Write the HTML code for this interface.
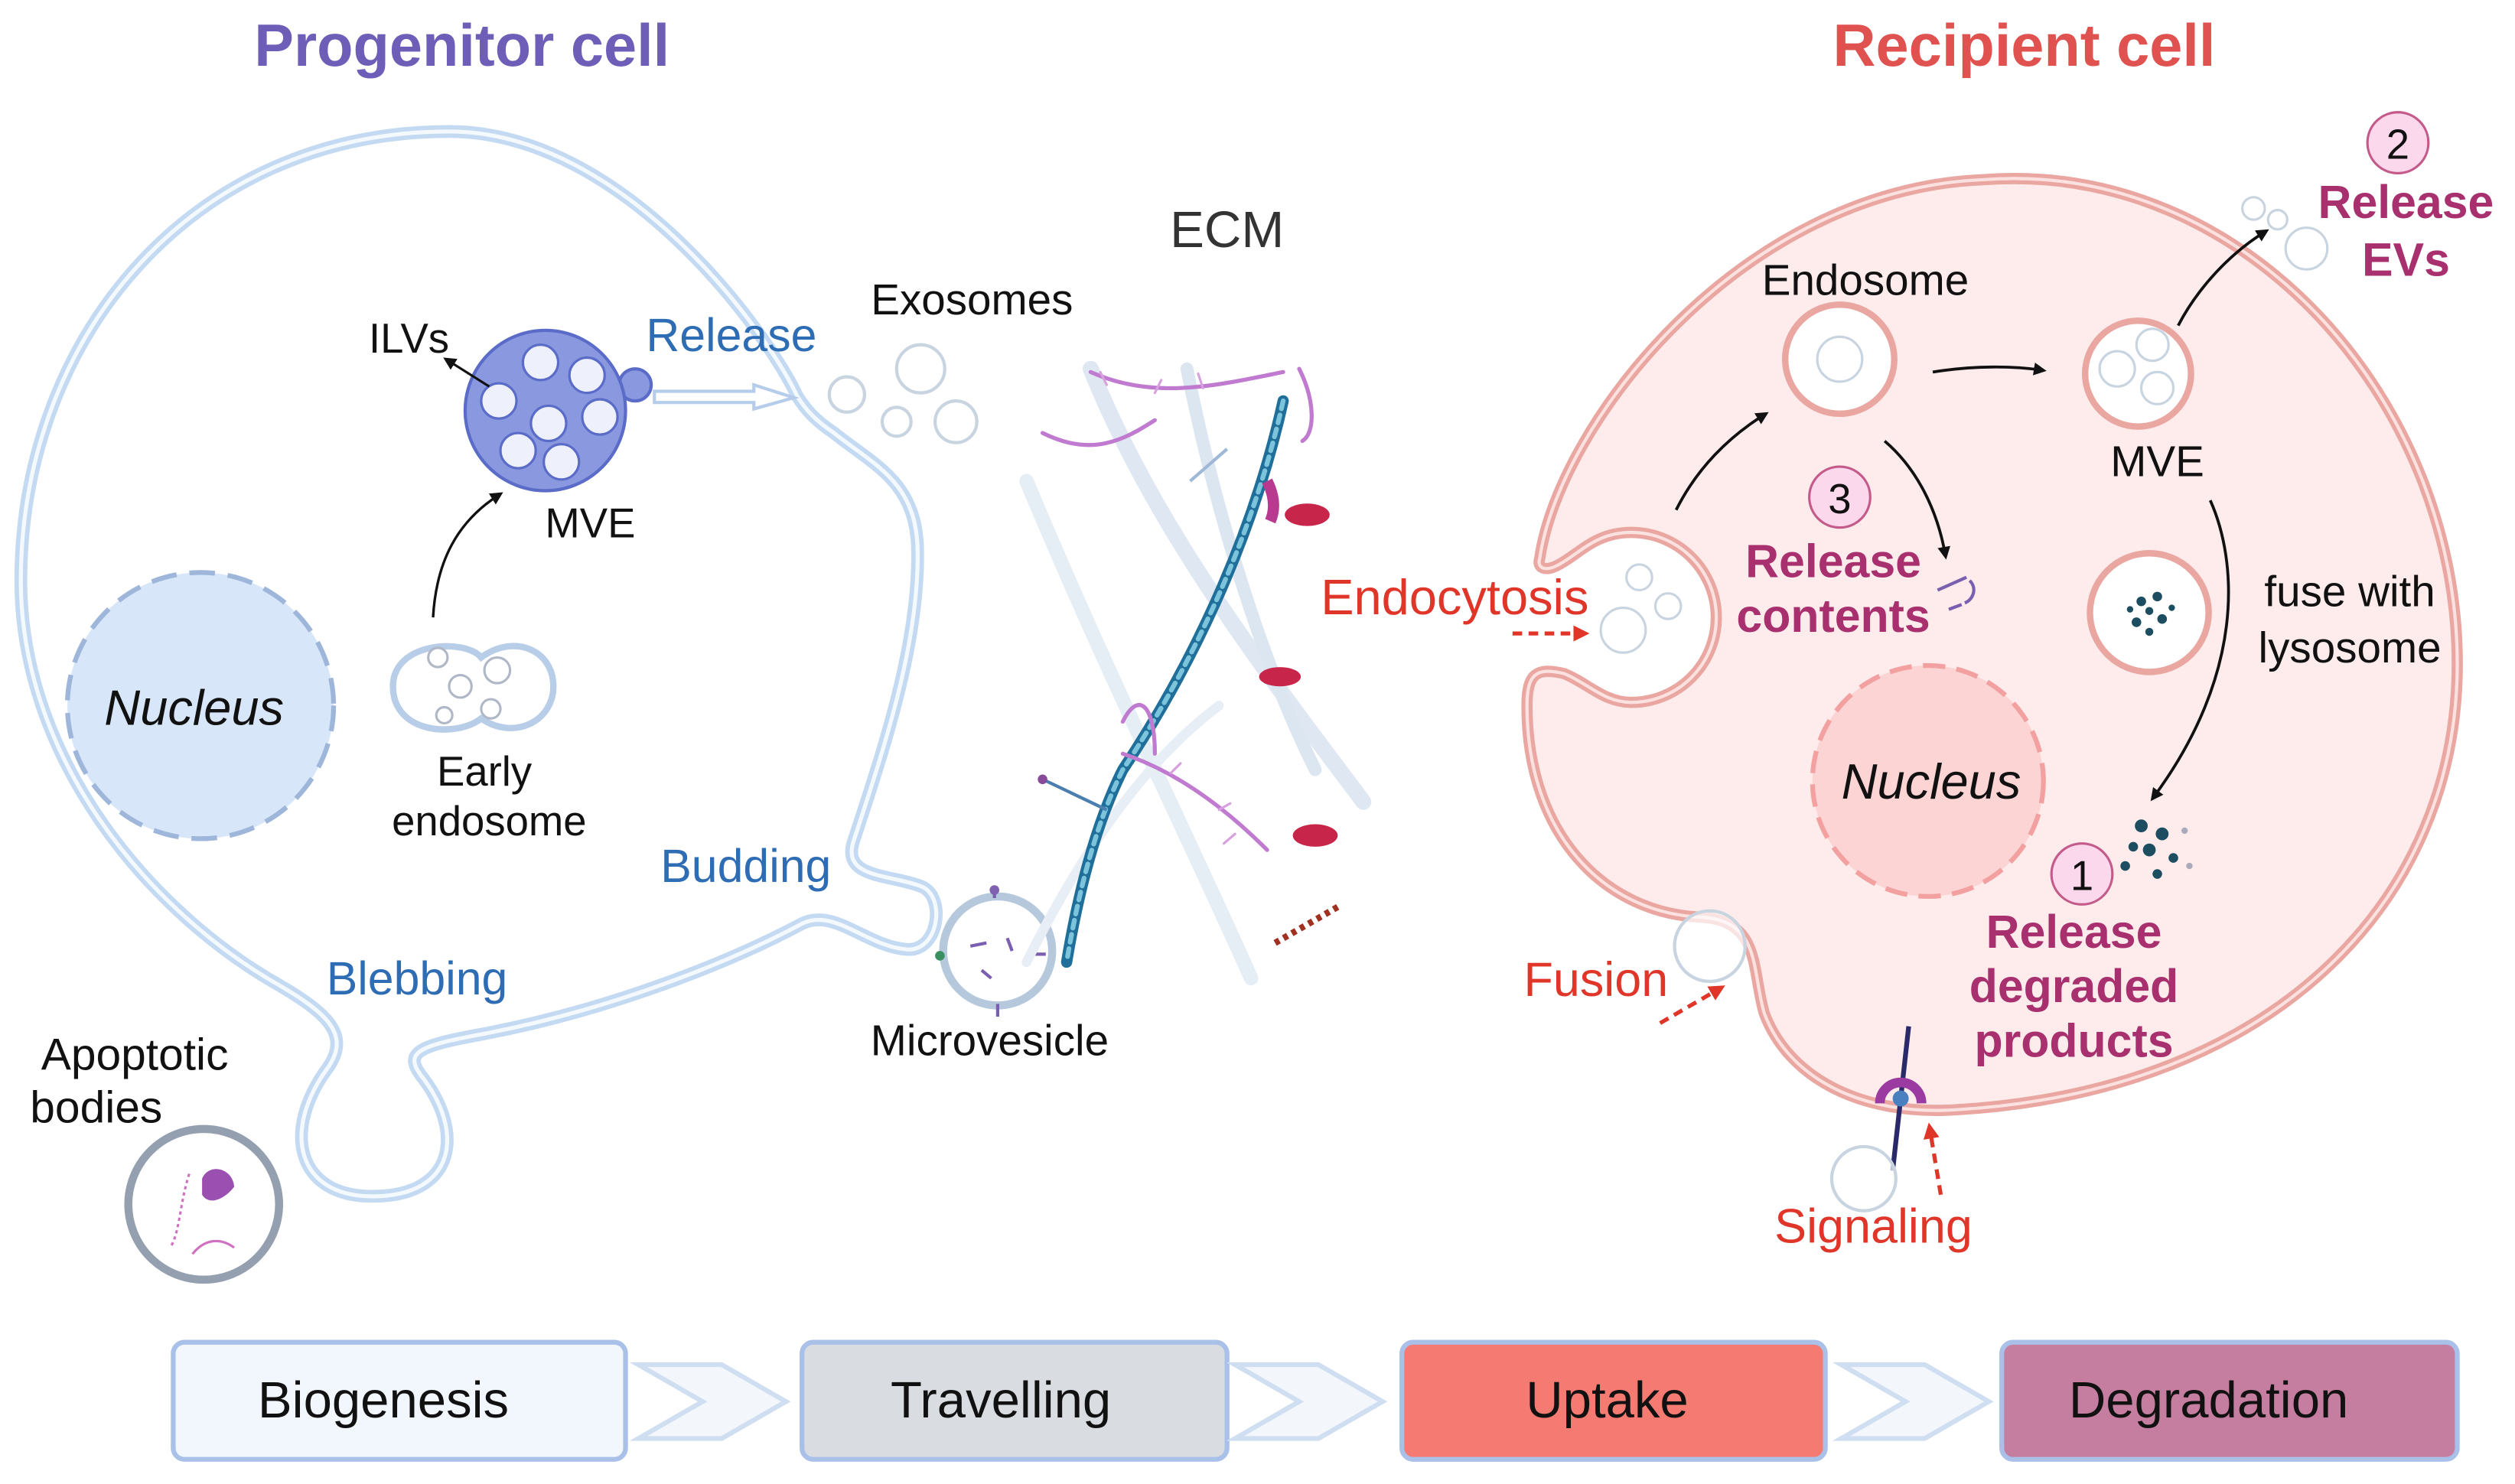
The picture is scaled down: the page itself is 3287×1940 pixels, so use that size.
<!DOCTYPE html>
<html><head><meta charset="utf-8"><style>
html,body{margin:0;padding:0;background:#fff;}
svg{display:block;}
text{font-family:"Liberation Sans",sans-serif;}
</style></head><body>
<svg width="3287" height="1940" viewBox="0 0 1568 925.4" preserveAspectRatio="none" xmlns="http://www.w3.org/2000/svg">
<defs>
<marker id="ah" markerWidth="8" markerHeight="8" refX="6" refY="4" orient="auto" markerUnits="userSpaceOnUse"><path d="M0,0 L8,4 L0,8 Z" fill="#111"/></marker>
<marker id="rh" markerWidth="10" markerHeight="10" refX="7" refY="5" orient="auto" markerUnits="userSpaceOnUse"><path d="M0,0 L10,5 L0,10 Z" fill="#e0362a"/></marker>
</defs>
<rect width="1568" height="925.4" fill="#fff"/>

<text x="288" y="41" font-size="37" fill="#6e5eb8" text-anchor="middle" font-weight="600">Progenitor cell</text>
<text x="1262" y="41" font-size="37" fill="#e0524f" text-anchor="middle" font-weight="600">Recipient cell</text>

<path d="M497,247 C480,210 390,82 280,82 C120,82 14,210 13,360 C12,470 90,565 170,612 C205,632 218,645 205,665 C175,705 185,746 232,746 C285,746 290,705 262,670 C252,656 262,652 300,645 C380,630 455,600 500,576 C520,566 540,590 565,592 C585,594 590,560 575,553 C555,545 525,548 532,525 C550,470 574,400 572,340 C570,300 545,290 520,270 C508,262 502,255 497,247 Z" fill="#fff" stroke="#c3daf2" stroke-width="8"/>
<path d="M497,247 C480,210 390,82 280,82 C120,82 14,210 13,360 C12,470 90,565 170,612 C205,632 218,645 205,665 C175,705 185,746 232,746 C285,746 290,705 262,670 C252,656 262,652 300,645 C380,630 455,600 500,576 C520,566 540,590 565,592 C585,594 590,560 575,553 C555,545 525,548 532,525 C550,470 574,400 572,340 C570,300 545,290 520,270 C508,262 502,255 497,247 Z" fill="none" stroke="#f4f9fe" stroke-width="2.5"/>

<circle cx="125" cy="440" r="83" fill="#d7e6f8" stroke="#9db6d9" stroke-width="3" stroke-dasharray="16,8"/>
<text x="121" y="452" font-size="31" font-style="italic" text-anchor="middle" fill="#111">Nucleus</text>

<circle cx="396" cy="240" r="10" fill="#8a98e0" stroke="#5a6cc8" stroke-width="2"/>
<circle cx="340" cy="256" r="50" fill="#8a98e0" stroke="#5a6cc8" stroke-width="2"/>
<g fill="#eef0fc" stroke="#5a6cc8" stroke-width="1.5">
<circle cx="337" cy="226" r="11"/><circle cx="366" cy="234" r="11"/><circle cx="311" cy="250" r="11"/>
<circle cx="342" cy="264" r="11"/><circle cx="374" cy="260" r="11"/><circle cx="323" cy="281" r="11"/><circle cx="350" cy="288" r="11"/>
</g>
<line x1="305" y1="241" x2="278" y2="224" stroke="#111" stroke-width="1.5" marker-end="url(#ah)"/>
<text x="255" y="220" font-size="26" text-anchor="middle" fill="#111">ILVs</text>
<text x="368" y="335" font-size="26" text-anchor="middle" fill="#111">MVE</text>
<text x="456" y="219" font-size="29" text-anchor="middle" fill="#2e6db4">Release</text>
<path d="M408,244 L470,244 L470,240 L495,248 L470,255 L470,251 L408,251 Z" fill="#fff" stroke="#b5cdea" stroke-width="2"/>

<path d="M245,428 C245,400 290,398 300,410 C320,395 345,405 345,428 C345,450 320,462 300,448 C285,460 245,458 245,428 Z" fill="#fff" stroke="#b8cde8" stroke-width="4"/>
<g fill="#fff" stroke="#b0b8c8" stroke-width="1.5"><circle cx="273" cy="410" r="6"/><circle cx="287" cy="428" r="7"/><circle cx="310" cy="418" r="8"/><circle cx="306" cy="442" r="6"/><circle cx="277" cy="446" r="5"/></g>
<path d="M270,385 C272,350 285,325 312,308" fill="none" stroke="#111" stroke-width="1.6" marker-end="url(#ah)"/>
<text x="302" y="490" font-size="26" text-anchor="middle" fill="#111">Early</text>
<text x="305" y="521" font-size="26" text-anchor="middle" fill="#111">endosome</text>

<text x="465" y="550" font-size="29" text-anchor="middle" fill="#2e6db4">Budding</text>
<text x="260" y="620" font-size="29" text-anchor="middle" fill="#2e6db4">Blebbing</text>
<text x="84" y="667" font-size="28" text-anchor="middle" fill="#111">Apoptotic</text>
<text x="60" y="700" font-size="28" text-anchor="middle" fill="#111">bodies</text>
<circle cx="127" cy="751" r="47" fill="#fff" stroke="#94a0b0" stroke-width="5"/>
<path d="M126,735 C130,725 145,728 146,740 C140,748 130,752 126,745 Z" fill="#9b4fb0"/>
<path d="M118,732 C112,750 112,770 106,778" fill="none" stroke="#d070c0" stroke-width="1.5" stroke-dasharray="2,2"/>
<path d="M120,782 C128,772 138,772 146,778" fill="none" stroke="#d070c0" stroke-width="1.5"/>

<circle cx="622" cy="593" r="34" fill="#fff" stroke="#b5c8dc" stroke-width="5"/>
<path d="M605,590 l10,-2 M628,585 l3,8 M612,605 l6,5 M640,595 l12,0 M620,560 l0,-6 M622,626 l0,8" stroke="#7a5fb0" stroke-width="2"/>
<circle cx="620" cy="555" r="3" fill="#8060b0"/><circle cx="586" cy="596" r="3" fill="#3a9060"/>
<text x="617" y="658" font-size="27" text-anchor="middle" fill="#111">Microvesicle</text>

<text x="606" y="196" font-size="27" text-anchor="middle" fill="#111">Exosomes</text>
<g fill="#fff" stroke="#c8d4e0" stroke-width="2"><circle cx="528" cy="246" r="11"/><circle cx="574" cy="230" r="15"/><circle cx="559" cy="263" r="9"/><circle cx="596" cy="263" r="13"/></g>

<text x="765" y="154" font-size="32" text-anchor="middle" fill="#333">ECM</text>
<g fill="none" stroke-linecap="round">
<path d="M680,230 C720,330 790,420 850,500" stroke="#dfe8f2" stroke-width="10"/>
<path d="M640,300 C690,420 740,520 780,610" stroke="#e5edf5" stroke-width="9"/>
<path d="M740,230 C760,330 790,420 820,480" stroke="#dce6f0" stroke-width="8"/>
<path d="M640,600 C680,520 720,470 760,440" stroke="#e8eef5" stroke-width="6"/>
<path d="M800,250 C780,340 740,420 700,480 C680,520 670,570 665,600" stroke="#1f6f9a" stroke-width="7"/>
<path d="M800,250 C780,340 740,420 700,480 C680,520 670,570 665,600" stroke="#7cc4dc" stroke-width="3" stroke-dasharray="5,4"/>
<path d="M680,232 C720,250 760,240 800,232 M650,270 C680,285 700,275 720,262 M700,470 C730,480 760,500 790,530 M700,450 C710,430 720,440 720,470 M810,230 C820,250 820,270 812,275" stroke="#c07ad0" stroke-width="2.5"/>
<path d="M690,240 l-4,-8 M720,245 l4,-8 M750,242 l-3,-9 M730,482 l6,-6 M760,505 l7,-4 M770,520 l-7,6" stroke="#d9a0e0" stroke-width="1.5"/>
</g>
<ellipse cx="815" cy="321" rx="14" ry="7" fill="#c8254a"/>
<path d="M790,300 C795,310 795,318 792,325" stroke="#b83a90" stroke-width="7" fill="none"/>
<ellipse cx="798" cy="422" rx="13" ry="6" fill="#c8254a"/>
<ellipse cx="820" cy="521" rx="14" ry="7" fill="#c8254a"/>
<path d="M795,588 L835,565" stroke="#a03020" stroke-width="4" stroke-dasharray="3,3"/>
<path d="M648,485 L690,505" stroke="#4a7fb0" stroke-width="2"/><circle cx="650" cy="486" r="3" fill="#8a4a9a"/>
<path d="M742,300 L765,280" stroke="#a0b8d8" stroke-width="2"/>

<path d="M960,348 C972,265 1085,118 1237,112 C1400,100 1532,250 1532,414 C1532,560 1420,680 1220,692 C1160,696 1115,672 1100,632 C1092,605 1098,575 1062,572 C1000,570 952,520 952,440 C952,420 958,416 975,420 C990,426 1000,438 1017,438 A53,53 0 1 0 1017,332 C995,332 985,345 972,352 C963,357 958,354 960,348 Z" fill="#fdeceb" stroke="#eaa6a1" stroke-width="7"/>
<path d="M960,348 C972,265 1085,118 1237,112 C1400,100 1532,250 1532,414 C1532,560 1420,680 1220,692 C1160,696 1115,672 1100,632 C1092,605 1098,575 1062,572 C1000,570 952,520 952,440 C952,420 958,416 975,420 C990,426 1000,438 1017,438 A53,53 0 1 0 1017,332 C995,332 985,345 972,352 C963,357 958,354 960,348 Z" fill="none" stroke="#fbe1df" stroke-width="2"/>

<g fill="#fff" stroke="#c8d4e0" stroke-width="1.5"><circle cx="1012" cy="393" r="14"/><circle cx="1022" cy="360" r="8"/><circle cx="1040" cy="378" r="8"/></g>

<text x="1163" y="184" font-size="27" text-anchor="middle" fill="#111">Endosome</text>
<circle cx="1147" cy="224" r="34" fill="#fff" stroke="#eaa6a1" stroke-width="4"/>
<circle cx="1147" cy="224" r="14" fill="#fff" stroke="#c8d4e0" stroke-width="1.5"/>
<path d="M1205,232 C1230,228 1255,228 1274,231" fill="none" stroke="#111" stroke-width="1.8" marker-end="url(#ah)"/>
<circle cx="1333" cy="233" r="33" fill="#fff" stroke="#eaa6a1" stroke-width="4"/>
<g fill="#fff" stroke="#c8d4e0" stroke-width="1.5"><circle cx="1320" cy="230" r="11"/><circle cx="1342" cy="215" r="10"/><circle cx="1345" cy="242" r="10"/></g>
<text x="1345" y="297" font-size="27" text-anchor="middle" fill="#111">MVE</text>
<path d="M1358,203 C1370,180 1390,158 1413,144" fill="none" stroke="#111" stroke-width="1.8" marker-end="url(#ah)"/>
<g fill="#fff" stroke="#c8d4e0" stroke-width="1.5"><circle cx="1405" cy="130" r="7"/><circle cx="1420" cy="137" r="6"/><circle cx="1438" cy="155" r="13"/></g>
<circle cx="1495" cy="89" r="19" fill="#fcd8ec" stroke="#c45a8a" stroke-width="1.5"/>
<text x="1495" y="99" font-size="26" text-anchor="middle" fill="#111">2</text>
<text x="1500" y="136" font-size="29" font-weight="bold" text-anchor="middle" fill="#a8306e">Release</text>
<text x="1500" y="172" font-size="29" font-weight="bold" text-anchor="middle" fill="#a8306e">EVs</text>

<path d="M1045,318 C1058,292 1078,272 1101,258" fill="none" stroke="#111" stroke-width="1.8" marker-end="url(#ah)"/>
<path d="M1175,275 C1195,292 1208,318 1213,347" fill="none" stroke="#111" stroke-width="1.8" marker-end="url(#ah)"/>
<circle cx="1147" cy="310" r="19" fill="#fcd8ec" stroke="#c45a8a" stroke-width="1.5"/>
<text x="1147" y="320" font-size="26" text-anchor="middle" fill="#111">3</text>
<text x="1143" y="360" font-size="29" font-weight="bold" text-anchor="middle" fill="#a8306e">Release</text>
<text x="1143" y="394" font-size="29" font-weight="bold" text-anchor="middle" fill="#a8306e">contents</text>
<path d="M1208,368 l18,-8 M1228,362 c5,5 2,12 -3,14 M1215,380 l8,-3" stroke="#7a5fb0" stroke-width="2" fill="none"/>

<circle cx="1340" cy="382" r="37" fill="#fff" stroke="#eaa6a1" stroke-width="4"/>
<g fill="#1d4d60"><circle cx="1335" cy="375" r="3"/><circle cx="1345" cy="372" r="3"/><circle cx="1332" cy="388" r="3"/><circle cx="1348" cy="386" r="3"/><circle cx="1340" cy="381" r="2.5"/><circle cx="1328" cy="380" r="2"/><circle cx="1354" cy="379" r="2"/><circle cx="1340" cy="394" r="2.5"/></g>
<text x="1465" y="378" font-size="27" text-anchor="middle" fill="#111">fuse with</text>
<text x="1465" y="413" font-size="27" text-anchor="middle" fill="#111">lysosome</text>
<path d="M1378,312 C1395,350 1400,420 1342,498" fill="none" stroke="#111" stroke-width="1.8" marker-end="url(#ah)"/>

<circle cx="1202" cy="487" r="72" fill="#fcd4d4" stroke="#f3a0a0" stroke-width="3" stroke-dasharray="14,7"/>
<text x="1204" y="498" font-size="31" font-style="italic" text-anchor="middle" fill="#111">Nucleus</text>

<g fill="#1d4d60"><circle cx="1335" cy="515" r="4"/><circle cx="1348" cy="520" r="4"/><circle cx="1340" cy="530" r="4"/><circle cx="1330" cy="528" r="3"/><circle cx="1355" cy="535" r="3"/><circle cx="1345" cy="545" r="3"/><circle cx="1325" cy="540" r="3"/></g>
<g fill="#aab"><circle cx="1362" cy="518" r="2"/><circle cx="1365" cy="540" r="2"/></g>
<circle cx="1298" cy="545" r="19" fill="#fcd8ec" stroke="#c45a8a" stroke-width="1.5"/>
<text x="1298" y="555" font-size="26" text-anchor="middle" fill="#111">1</text>
<text x="1293" y="591" font-size="29" font-weight="bold" text-anchor="middle" fill="#a8306e">Release</text>
<text x="1293" y="625" font-size="29" font-weight="bold" text-anchor="middle" fill="#a8306e">degraded</text>
<text x="1293" y="659" font-size="29" font-weight="bold" text-anchor="middle" fill="#a8306e">products</text>

<text x="907" y="383" font-size="31" text-anchor="middle" fill="#e0362a">Endocytosis</text>
<line x1="943" y1="395" x2="988" y2="395" stroke="#e0362a" stroke-width="2.5" stroke-dasharray="6,4" marker-end="url(#rh)"/>
<text x="995" y="621" font-size="30" text-anchor="middle" fill="#e0362a">Fusion</text>
<line x1="1035" y1="638" x2="1073" y2="616" stroke="#e0362a" stroke-width="2.5" stroke-dasharray="6,4" marker-end="url(#rh)"/>
<circle cx="1066" cy="590" r="22" fill="#fff" fill-opacity="0.7" stroke="#c8d4e0" stroke-width="2"/>

<line x1="1190" y1="640" x2="1180" y2="730" stroke="#2a2a6a" stroke-width="3"/>
<path d="M1172,688 A13,13 0 0 1 1198,688" fill="none" stroke="#9b3aa0" stroke-width="6"/>
<circle cx="1185" cy="685" r="5" fill="#4a80c0"/>
<circle cx="1162" cy="735" r="20" fill="#fff" fill-opacity="0.7" stroke="#c8d4e0" stroke-width="2"/>
<line x1="1210" y1="745" x2="1203" y2="703" stroke="#e0362a" stroke-width="2.5" stroke-dasharray="6,4" marker-end="url(#rh)"/>
<text x="1168" y="775" font-size="30" text-anchor="middle" fill="#e0362a">Signaling</text>

<g stroke="#a9c0e8" stroke-width="3">
<rect x="108" y="837" width="282" height="73" rx="7" fill="#f2f6fd"/>
<rect x="500" y="837" width="265" height="73" rx="7" fill="#d9dce1"/>
<rect x="874" y="837" width="264" height="73" rx="7" fill="#f47a72"/>
<rect x="1248" y="837" width="284" height="73" rx="7" fill="#c67ea0"/>
</g>
<g fill="#f3f7fc" stroke="#cfdff1" stroke-width="3">
<path d="M398,851 L450,851 L490,874 L450,897 L398,897 L438,874 Z"/>
<path d="M770,851 L822,851 L862,874 L822,897 L770,897 L810,874 Z"/>
<path d="M1148,851 L1200,851 L1240,874 L1200,897 L1148,897 L1188,874 Z"/>
</g>
<g font-size="32" fill="#111" text-anchor="middle">
<text x="239" y="884">Biogenesis</text>
<text x="624" y="884">Travelling</text>
<text x="1002" y="884">Uptake</text>
<text x="1377" y="884">Degradation</text>
</g>
</svg>
</body></html>
